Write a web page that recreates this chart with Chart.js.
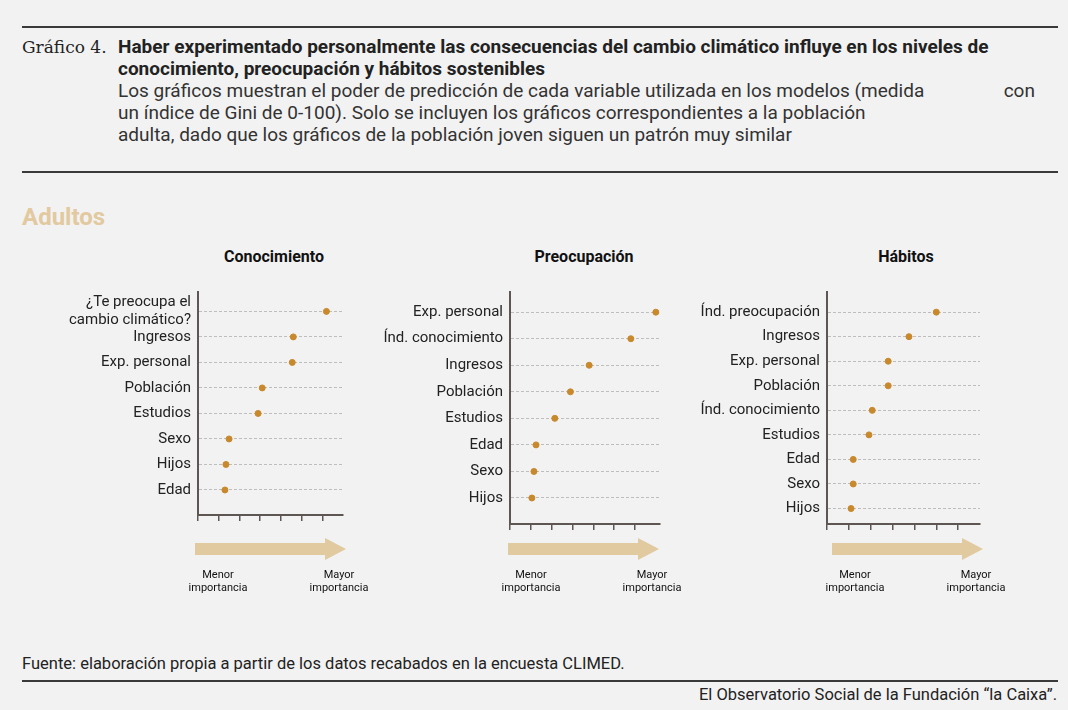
<!DOCTYPE html>
<html><head><meta charset="utf-8">
<script src="https://cdn.jsdelivr.net/npm/chart.js@4"></script>
<style>
body{margin:0;background:#f2f2f2;font-family:Roboto,"Liberation Sans",sans-serif;color:#222}
#page{position:relative;width:1068px;height:710px;overflow:hidden}
.abs{position:absolute}
.rule{position:absolute;left:22px;width:1036px;height:2px;background:#3a3a3a}
.ttl{font-weight:bold;font-size:16px;color:#111;text-align:center;width:200px}
.lbl{font-size:11px;line-height:13px;text-align:center;width:90px;color:#111}
</style></head><body>
<div id="page">
  <div class="rule" style="top:26px"></div>
  <div class="abs" style="left:22px;top:37px;font-family:'DejaVu Serif','Liberation Serif',serif;font-size:17px">Gráfico 4.</div>
  <div class="abs" style="left:118px;top:36px;width:935px;font-size:19px;line-height:22px">
    <b>Haber experimentado personalmente las consecuencias del cambio climático influye en los niveles de conocimiento, preocupación y hábitos sostenibles</b><br>
    <span style="color:#333">Los gráficos muestran el poder de predicción de cada variable utilizada en los modelos (medida <span style="display:inline-block;width:70px"></span> con<br>un índice de Gini de 0-100). Solo se incluyen los gráficos correspondientes a la población<br>adulta, dado que los gráficos de la población joven siguen un patrón muy similar</span>
  </div>
  <div class="rule" style="top:171px"></div>
  <div class="abs" style="left:22px;top:203px;font-size:24px;font-weight:bold;color:#e2c99f">Adultos</div>

  <div class="abs ttl" style="left:174px;top:247px">Conocimiento</div>
  <div class="abs ttl" style="left:484px;top:247px">Preocupación</div>
  <div class="abs ttl" style="left:806px;top:247px">Hábitos</div>

  <canvas id="c1" class="abs" style="left:30px;top:276px"></canvas>
  <canvas id="c2" class="abs" style="left:340px;top:276px"></canvas>
  <canvas id="c3" class="abs" style="left:660px;top:276px"></canvas>

  <svg class="abs" style="left:0;top:530px" width="1068" height="40">
    <polygon fill="#e1c9a0" points="195,13 325,13 325,8 346,19 325,30 325,25 195,25"/>
    <polygon fill="#e1c9a0" points="508,13 638,13 638,8 659,19 638,30 638,25 508,25"/>
    <polygon fill="#e1c9a0" points="832,13 962,13 962,8 983,19 962,30 962,25 832,25"/>
  </svg>
  <div class="abs lbl" style="left:173px;top:568px">Menor<br>importancia</div>
  <div class="abs lbl" style="left:294px;top:568px">Mayor<br>importancia</div>
  <div class="abs lbl" style="left:486px;top:568px">Menor<br>importancia</div>
  <div class="abs lbl" style="left:607px;top:568px">Mayor<br>importancia</div>
  <div class="abs lbl" style="left:810px;top:568px">Menor<br>importancia</div>
  <div class="abs lbl" style="left:931px;top:568px">Mayor<br>importancia</div>

  <div class="abs" style="left:22px;top:654px;font-size:16.5px">Fuente: elaboración propia a partir de los datos recabados en la encuesta CLIMED.</div>
  <div class="rule" style="top:680px"></div>
  <div class="abs" style="right:11px;top:685px;font-size:16.5px">El Observatorio Social de la Fundación “la Caixa”.</div>
</div>
<script>
const conocLabels = [["¿Te preocupa el", "cambio climático?"], "Ingresos", "Exp. personal", "Población", "Estudios", "Sexo", "Hijos", "Edad"];
const conocValues = [6.2, 4.6, 4.55, 3.1, 2.9, 1.5, 1.35, 1.3];
const preocLabels = ["Exp. personal", "Índ. conocimiento", "Ingresos", "Población", "Estudios", "Edad", "Sexo", "Hijos"];
const preocValues = [7.0, 5.8, 3.8, 2.9, 2.15, 1.25, 1.15, 1.05];
const habLabels = ["Índ. preocupación", "Ingresos", "Exp. personal", "Población", "Índ. conocimiento", "Estudios", "Edad", "Sexo", "Hijos"];
const habValues = [5.0, 3.75, 2.8, 2.8, 2.07, 1.92, 1.2, 1.2, 1.1];

const DOT = "#c8882c";

function makeChart(id, labels, values, opt){
  const el = document.getElementById(id);
  el.width = opt.w; el.height = opt.h;
  el.style.width = opt.w + "px"; el.style.height = opt.h + "px";
  return new Chart(el, {
    type: "scatter",
    data: { datasets: [{ data: values.map((v, i) => ({x: v, y: i})), backgroundColor: DOT, borderColor: DOT, pointRadius: 3, clip: false }] },
    options: {
      responsive: false, animation: false,
      layout: { padding: { top: 0, right: opt.padR, bottom: 0, left: 0 } },
      plugins: { legend: { display: false }, tooltip: { enabled: false } },
      scales: {
        x: {
          min: 0, max: opt.xmax,
          afterBuildTicks: s => { s.ticks = [0,1,2,3,4,5,6].map(v => ({value: v})); },
          ticks: { display: false },
          grid: { drawOnChartArea: false, color: "#5e5652", tickLength: 6, lineWidth: 1.5 },
          border: { color: "#5e5652", width: 2 }
        },
        y: {
          reverse: true, min: opt.ymin, max: opt.ymax,
          afterBuildTicks: s => { s.ticks = labels.map((_, i) => ({value: i})); },
          afterFit: s => { s.width = opt.yw; },
          ticks: { autoSkip: false, callback: v => labels[v], color: "#222", font: { family: "Roboto", size: 15 }, padding: 7 },
          grid: { color: "#bdbdbd", drawTicks: false },
          border: { color: "#5e5652", width: 2, dash: [3, 2] }
        }
      }
    }
  });
}
Chart.defaults.font.family = "Roboto";
makeChart("c1", conocLabels, conocValues, {w: 320, h: 264, yw: 168, xmax: 7, padR: 7, ymin: -0.76, ymax: 7.98});
makeChart("c2", preocLabels, preocValues, {w: 330, h: 264, yw: 170, xmax: 7.2, padR: 10, ymin: -0.76, ymax: 7.98});
makeChart("c3", habLabels, habValues, {w: 330, h: 264, yw: 167, xmax: 7, padR: 10, ymin: -0.82, ymax: 8.63});
</script>
</body></html>
